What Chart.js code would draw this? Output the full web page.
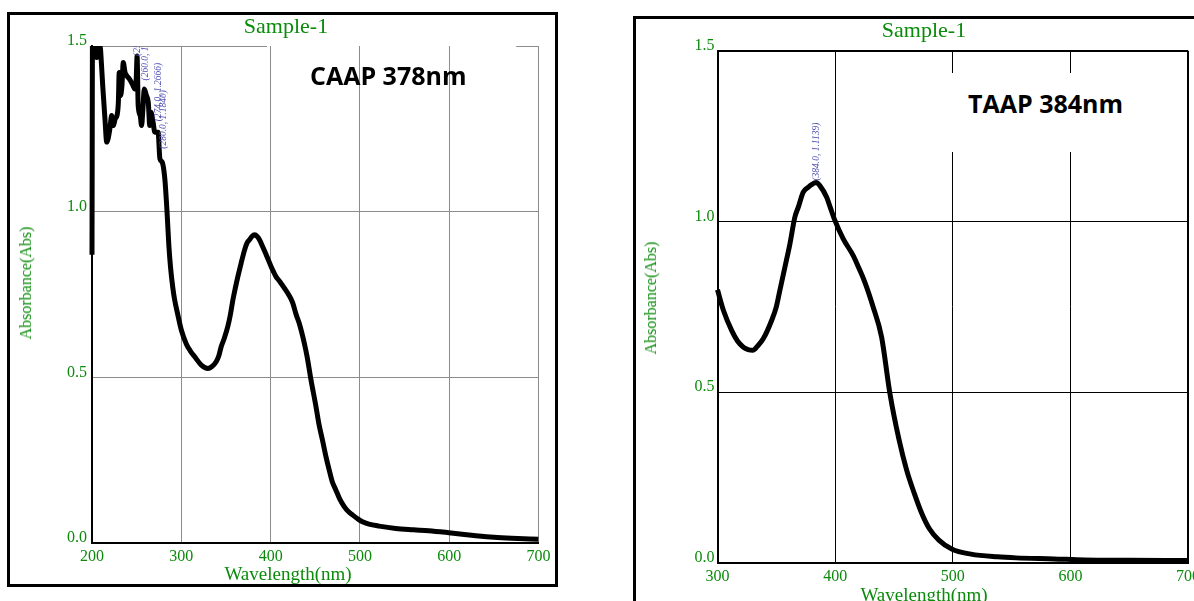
<!DOCTYPE html>
<html>
<head>
<meta charset="utf-8">
<title>CAAP / TAAP absorbance spectra</title>
<script src="https://cdn.jsdelivr.net/npm/chart.js@4.4.1/dist/chart.umd.min.js"></script>
<style>
  html, body { margin: 0; padding: 0; background: #fff; overflow: hidden; }
  body { width: 1194px; height: 601px; position: relative; }
  .frame { position: absolute; border: 3px solid #000; box-sizing: border-box; }
  #frameL { left: 7px; top: 12px; width: 551px; height: 575px; }
  #frameR { left: 633px; top: 16px; width: 640px; height: 640px; }
  canvas { position: absolute; }
  #chartL { left: 10px; top: 15px; }
  #chartR { left: 636px; top: 19px; }
  .serif { position: absolute; font-family: 'Liberation Serif', 'Times New Roman', serif; color: #0b8a0b; white-space: nowrap; }
  .ttl { font-size: 22px; line-height: 22px; transform: translateX(-50%); }
  .xt { font-size: 19px; line-height: 19px; transform: translateX(-50%); }
  .yt { font-size: 16px; line-height: 16px; transform: translate(-50%, -50%) rotate(-90deg); }
  .tag { position: absolute; font-family: 'Open Sans', Lato, sans-serif; font-weight: 700; font-size: 25px; line-height: 25px; color: #000; white-space: nowrap; }
  #tagL { left: 310px; top: 63px; }
  #tagR { left: 944px; top: 73px; width: 196px; height: 79px; background: #fff; padding: 17.5px 0 0 24px; box-sizing: border-box; }
</style>
</head>
<body>
<div class="frame" id="frameL"></div>
<div class="frame" id="frameR"></div>
<canvas id="chartL" width="545" height="569"></canvas>
<canvas id="chartR" width="576" height="582"></canvas>

<div class="serif ttl" style="left:286px; top:15px;">Sample-1</div>
<div class="serif ttl" style="left:924px; top:19px;">Sample-1</div>
<div class="serif xt" style="left:288px; top:564px;">Wavelength(nm)</div>
<div class="serif xt" style="left:924px; top:585px;">Wavelength(nm)</div>
<div class="serif yt" style="left:26px; top:283px;">Absorbance(Abs)</div>
<div class="serif yt" style="left:651px; top:298px;">Absorbance(Abs)</div>
<div class="tag" id="tagL">CAAP 378nm</div>
<div class="tag" id="tagR">TAAP 384nm</div>

<script>
// CAAP spectrum (left panel)
const caapWavelength = [200, 200.6, 203, 205, 207, 209, 210.5, 212, 214.5, 216.5, 218, 220, 222, 224, 226, 228,
  229.5, 230.5, 232, 233.5, 235, 237, 239, 242, 246, 248, 249.5, 250.5, 251.7, 254, 255.5, 257, 258.5, 261, 263,
  264.7, 266, 268.4, 270.3, 274, 276, 278.5, 281.5, 284, 286, 288, 290.5, 292.6, 296, 300, 305.7, 310, 315, 322.4,
  329.8, 334, 339, 342, 344.7, 348, 352, 355, 357.7, 360.5, 363.3, 367, 370.8, 373.5, 376.3, 379, 382, 385, 387.5,
  391, 395, 400.6, 403, 406, 410, 415.4, 420, 424.7, 428.5, 432, 437.7, 441, 445, 450.8, 454, 458, 462, 465.6, 469,
  473, 477, 482.4, 487, 491.6, 497, 502.8, 510, 521.4, 540, 560, 577, 599.6, 620, 633, 650, 670, 700];
const caapAbsorbance = [0.87, 1.55, 1.52, 1.465, 1.47, 1.50, 1.45, 1.38, 1.28, 1.21, 1.22, 1.25, 1.29, 1.26, 1.28, 1.29,
  1.33, 1.42, 1.35, 1.38, 1.45, 1.42, 1.41, 1.40, 1.38, 1.37, 1.40, 1.47, 1.32, 1.29, 1.26, 1.31, 1.37, 1.35, 1.33,
  1.26, 1.30, 1.27, 1.24, 1.24, 1.16, 1.15, 1.10, 1.0, 0.9, 0.83, 0.77, 0.733, 0.69, 0.643, 0.60, 0.58, 0.562, 0.537,
  0.527, 0.532, 0.547, 0.565, 0.593, 0.617, 0.653, 0.69, 0.733, 0.77, 0.804, 0.845, 0.884, 0.905, 0.915, 0.925, 0.93,
  0.925, 0.915, 0.895, 0.87, 0.834, 0.82, 0.804, 0.79, 0.769, 0.75, 0.725, 0.69, 0.663, 0.603, 0.56, 0.495, 0.411,
  0.36, 0.311, 0.26, 0.220, 0.185, 0.160, 0.135, 0.110, 0.095, 0.085, 0.074, 0.064, 0.057, 0.051, 0.044, 0.040,
  0.037, 0.031, 0.025, 0.021, 0.017, 0.014, 0.011];

// TAAP spectrum (right panel)
const taapWavelength = [300, 305, 312, 317, 322, 326, 330, 334, 339, 346, 350, 353, 357.3, 361.6, 365.8, 368.7, 372.9,
  377.1, 380, 384, 387, 392.8, 396, 399.8, 406.9, 415.4, 420, 425.3, 432.4, 439.5, 446.6, 454.4, 460.8, 467.3, 473.7,
  480, 488.2, 499.5, 515.5, 538, 554, 586, 612, 650, 700];
const taapAbsorbance = [0.80, 0.74, 0.681, 0.65, 0.632, 0.625, 0.623, 0.635, 0.657, 0.71, 0.75, 0.798, 0.866, 0.935,
  1.013, 1.042, 1.086, 1.100, 1.108, 1.1139, 1.105, 1.071, 1.04, 1.003, 0.949, 0.9, 0.865, 0.822, 0.749, 0.662, 0.496,
  0.36, 0.272, 0.204, 0.145, 0.101, 0.067, 0.040, 0.026, 0.018, 0.015, 0.012, 0.009, 0.008, 0.007];

// peak-pick labels printed by the instrument
const caapPeakX = [251.0, 260.0, 274.0, 280.0];
const caapPeakY = [1.4640, 1.3900, 1.2666, 1.1840];
const taapPeakX = [384.0];
const taapPeakY = [1.1139];

const caapTicks = [200, 300, 400, 500, 600, 700];
const taapTicks = [300, 400, 500, 600, 700];
const absTicks = [0.0, 0.5, 1.0, 1.5];

// the left plot only has its top frame line at the two ends
const caapTopEdge = [[200, 396], [675, 700]];

const green = '#0b8a0b';
const serif = "'Liberation Serif', 'Times New Roman', serif";

const peakLabels = {
  id: 'peakLabels',
  afterDatasetsDraw(chart, args, opts) {
    const { ctx, chartArea: a, scales: { x, y } } = chart;
    ctx.save();
    ctx.beginPath();
    ctx.rect(a.left, a.top, a.right - a.left, a.bottom - a.top);
    ctx.clip();
    ctx.font = 'italic 9.5px ' + serif;
    ctx.fillStyle = '#5050b4';
    ctx.textAlign = 'left';
    ctx.textBaseline = 'middle';
    opts.xs.forEach((wl, i) => {
      ctx.save();
      ctx.translate(x.getPixelForValue(wl), y.getPixelForValue(opts.ys[i]) - 2);
      ctx.rotate(-Math.PI / 2);
      ctx.fillText(`(${wl.toFixed(1)}, ${opts.ys[i].toFixed(4)})`, 0, 0);
      ctx.restore();
    });
    ctx.restore();
  }
};

const topEdge = {
  id: 'topEdge',
  beforeDatasetsDraw(chart, args, opts) {
    if (!opts.segments) return;
    const { ctx, scales: { x, y } } = chart;
    const yp = Math.round(y.getPixelForValue(y.max)) + 0.5;
    ctx.save();
    ctx.strokeStyle = opts.color;
    ctx.lineWidth = opts.width;
    opts.segments.forEach(([a, b]) => {
      ctx.beginPath();
      ctx.moveTo(x.getPixelForValue(a), yp);
      ctx.lineTo(x.getPixelForValue(b), yp);
      ctx.stroke();
    });
    ctx.restore();
  }
};

function buildChart(id, o) {
  const xMin = o.xTicks[0], xMax = o.xTicks[o.xTicks.length - 1];
  return new Chart(document.getElementById(id), {
    type: 'line',
    data: {
      datasets: [{
        data: o.wl.map((w, i) => ({ x: w, y: o.abs[i] })),
        borderColor: '#000',
        borderWidth: 5,
        pointRadius: 0,
        cubicInterpolationMode: 'monotone',
        borderJoinStyle: 'round',
        clip: { left: 3, top: 0, right: 0, bottom: 0 }
      }]
    },
    options: {
      responsive: false,
      animation: false,
      devicePixelRatio: 1,
      layout: { padding: o.pad },
      plugins: {
        legend: { display: false },
        tooltip: { enabled: false },
        peakLabels: { xs: o.peakX, ys: o.peakY },
        topEdge: { segments: o.topSegments, color: o.gridColor, width: 1 }
      },
      scales: {
        x: {
          type: 'linear', min: xMin, max: xMax,
          afterBuildTicks: s => { s.ticks = o.xTicks.map(v => ({ value: v })); },
          afterFit: s => { s.height = o.xAxisH; },
          ticks: { color: green, font: { family: serif, size: 16 }, padding: 4.4, maxRotation: 0, autoSkip: false },
          grid: {
            drawTicks: false,
            color: c => (c.tick && c.tick.value === xMin) ? 'rgba(0,0,0,0)' : o.gridColor,
            lineWidth: c => (c.tick && c.tick.value === xMax) ? o.edgeWidth : 1
          },
          border: { display: true, color: '#000', width: 2 }
        },
        y: {
          type: 'linear', min: 0, max: 1.5,
          afterBuildTicks: s => { s.ticks = absTicks.map(v => ({ value: v })); },
          afterFit: s => { s.width = o.yAxisW; },
          ticks: {
            color: green, font: { family: serif, size: 16 }, padding: o.yPad, labelOffset: -5,
            callback: v => v.toFixed(1)
          },
          grid: {
            drawTicks: false,
            color: c => {
              if (!c.tick || c.tick.value === 0) return 'rgba(0,0,0,0)';
              if (c.tick.value === 1.5 && o.topSegments) return 'rgba(0,0,0,0)';
              return o.gridColor;
            },
            lineWidth: c => (c.tick && c.tick.value === 1.5) ? o.edgeWidth : 1
          },
          border: { display: true, color: '#000', width: 2 }
        }
      }
    },
    plugins: [peakLabels, topEdge]
  });
}

buildChart('chartL', {
  wl: caapWavelength, abs: caapAbsorbance, xTicks: caapTicks,
  peakX: caapPeakX, peakY: caapPeakY, topSegments: caapTopEdge,
  pad: { left: 0, top: 31, right: 15, bottom: 0 },
  xAxisH: 41, yAxisW: 82, yPad: 5,
  gridColor: '#8c8c8c', edgeWidth: 1
});

buildChart('chartR', {
  wl: taapWavelength, abs: taapAbsorbance, xTicks: taapTicks,
  peakX: taapPeakX, peakY: taapPeakY, topSegments: null,
  pad: { left: 0, top: 31.7, right: 24, bottom: 0 },
  xAxisH: 38, yAxisW: 81.5, yPad: 3,
  gridColor: '#000', edgeWidth: 2
});
</script>
</body>
</html>
